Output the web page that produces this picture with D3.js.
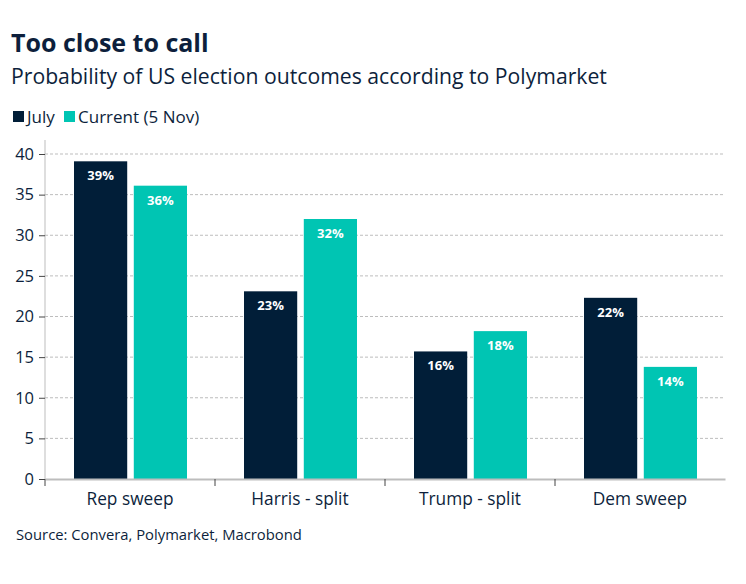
<!DOCTYPE html>
<html>
<head>
<meta charset="utf-8">
<script src="https://cdn.jsdelivr.net/npm/d3@7"></script>
<style>
  body { margin: 0; background: #fff; }
  text { font-family: "Open Sans", "Noto Sans", sans-serif; }
</style>
</head>
<body>
<div id="chart"></div>
<script>
// data
var categories = ["Rep sweep", "Harris - split", "Trump - split", "Dem sweep"];
var series = ["July", "Current (5 Nov)"];
var julyValues = [39.1, 23.1, 15.7, 22.3];
var currentValues = [36.1, 32.0, 18.2, 13.8];
var julyLabels = ["39%", "23%", "16%", "22%"];
var currentLabels = ["36%", "32%", "18%", "14%"];
var yTicks = [0, 5, 10, 15, 20, 25, 30, 35, 40];

var colors = ["#011e38", "#00c5b3"];
var textCol = "#0d1f3c";

var width = 746, height = 584;
var margin = {top: 154, right: 21, bottom: 105, left: 45};

var svg = d3.select("#chart").append("svg")
    .attr("width", width)
    .attr("height", height);

var x = d3.scaleBand()
    .domain(categories)
    .range([margin.left, width - margin.right]);

var inner = d3.scaleBand()
    .domain(series)
    .range([29, 142])
    .paddingInner(0.11);

var y = d3.scaleLinear()
    .domain([0, 40])
    .range([height - margin.bottom, margin.top]);

// gridlines
svg.append("g")
    .selectAll("line")
    .data(yTicks.slice(1))
    .enter().append("line")
    .attr("x1", margin.left)
    .attr("x2", width - margin.right)
    .attr("y1", d => y(d))
    .attr("y2", d => y(d))
    .attr("stroke", "#bdbdbd")
    .attr("stroke-width", 1)
    .attr("stroke-dasharray", "3,2");

// bars
var rows = categories.map(function(c, i){
    return [
        {cat: c, s: series[0], v: julyValues[i], lab: julyLabels[i], col: colors[0]},
        {cat: c, s: series[1], v: currentValues[i], lab: currentLabels[i], col: colors[1]}
    ];
});

var groups = svg.append("g").selectAll("g")
    .data(rows)
    .enter().append("g")
    .attr("transform", d => "translate(" + x(d[0].cat) + ",0)");

groups.selectAll("rect")
    .data(d => d)
    .enter().append("rect")
    .attr("x", d => inner(d.s))
    .attr("width", inner.bandwidth())
    .attr("y", d => y(d.v))
    .attr("height", d => y(0) - y(d.v))
    .attr("fill", d => d.col);

groups.selectAll("text")
    .data(d => d)
    .enter().append("text")
    .attr("x", d => inner(d.s) + inner.bandwidth() / 2)
    .attr("y", d => y(d.v) + 19)
    .attr("text-anchor", "middle")
    .attr("fill", "#fff")
    .style("font-size", "13px")
    .style("font-weight", "bold")
    .text(d => d.lab);

// y axis
var yAxis = svg.append("g")
    .attr("transform", "translate(" + margin.left + ",0)")
    .call(d3.axisLeft(y).tickValues(yTicks).tickSize(6).tickPadding(5));
yAxis.select(".domain").attr("stroke", "#bdbdbd").attr("d", "M0," + y(0) + "V" + (y(40) - 14));
yAxis.selectAll(".tick line").attr("stroke", "#444");
yAxis.selectAll(".tick text")
    .attr("fill", textCol)
    .style("font-size", "16.5px")
    .style("font-family", "'Open Sans', sans-serif");

// x axis
var xAxis = svg.append("g")
    .attr("transform", "translate(0," + y(0) + ")")
    .call(d3.axisBottom(x).tickSize(0).tickPadding(14));
xAxis.select(".domain").attr("stroke", "#bdbdbd").attr("stroke-width", 2);
xAxis.selectAll(".tick text")
    .attr("fill", textCol)
    .style("font-size", "17.3px")
    .style("font-family", "'Open Sans', sans-serif");
var tickXs = [margin.left].concat(categories.slice(1).map(c => x(c)));
xAxis.append("g").selectAll("line")
    .data(tickXs)
    .enter().append("line")
    .attr("x1", d => d).attr("x2", d => d)
    .attr("y1", 0).attr("y2", 7)
    .attr("stroke", "#444");

// titles
svg.append("text")
    .attr("x", 11).attr("y", 52)
    .attr("fill", textCol)
    .style("font-size", "25px")
    .style("font-weight", "bold")
    .text("Too close to call");

svg.append("text")
    .attr("x", 11).attr("y", 84)
    .attr("fill", textCol)
    .style("font-size", "21.2px")
    .text("Probability of US election outcomes according to Polymarket");

// legend
var leg = svg.append("g").attr("transform", "translate(13,111)");
var legX = [0, 51];
series.forEach(function(s, i){
    leg.append("rect")
        .attr("x", legX[i]).attr("y", 0)
        .attr("width", 11).attr("height", 11)
        .attr("fill", colors[i]);
    leg.append("text")
        .attr("x", legX[i] + 14).attr("y", 12)
        .attr("fill", textCol)
        .style("font-size", "17px")
        .text(s);
});

// source
svg.append("text")
    .attr("x", 16).attr("y", 540)
    .attr("fill", textCol)
    .style("font-size", "14.8px")
    .text("Source: Convera, Polymarket, Macrobond");
</script>
</body>
</html>
